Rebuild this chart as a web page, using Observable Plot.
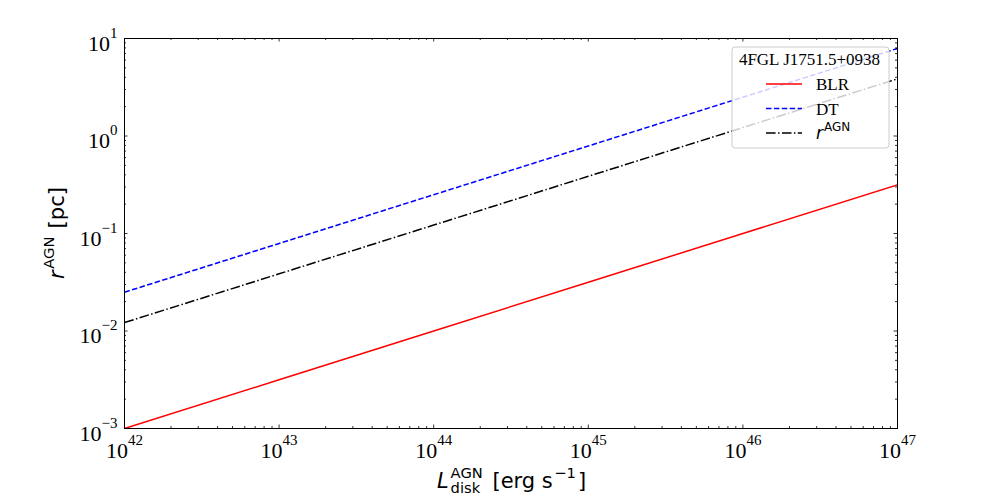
<!DOCTYPE html>
<html><head><meta charset="utf-8">
<script src="https://cdn.jsdelivr.net/npm/d3@7"></script>
<script src="https://cdn.jsdelivr.net/npm/@observablehq/plot@0.6"></script>
<style>body{margin:0;background:#fff} svg{display:block}</style>
</head><body><div id="chart"></div>
<script>
// ---- data ----
const luminosity = [1e42, 1e43, 1e44, 1e45, 1e46, 1e47];
const rBLR = [0.001, 0.00316, 0.01, 0.0316, 0.1, 0.316];
const rDT  = [0.025, 0.079, 0.25, 0.79, 2.5, 7.9];
const rAGN = [0.0122, 0.0386, 0.122, 0.386, 1.22, 3.86];
const xTickExponents = [42, 43, 44, 45, 46, 47];
const yTickExponents = [-3, -2, -1, 0, 1];
const legendTitle = "4FGL J1751.5+0938";
const seriesKeys = ["BLR", "DT", "AGN"];

// ---- styles ----
const seriesColor = {BLR: "#ff0000", DT: "#0000ff", AGN: "#000000"};
const seriesDash = {BLR: null, DT: "5.5,2.4", AGN: "9.6,2.4,1.5,2.4"};

const W = 997, H = 499, mL = 124, mR = 100, mT = 38, mB = 71;
const plotW = W - mL - mR, plotH = H - mT - mB;

const rows = {
  BLR: luminosity.map((L, i) => ({L, r: rBLR[i]})),
  DT: luminosity.map((L, i) => ({L, r: rDT[i]})),
  AGN: luminosity.map((L, i) => ({L, r: rAGN[i]}))
};

const xMajor = xTickExponents.map(e => 10 ** e);
const yMajor = yTickExponents.map(e => 10 ** e);
const xMinor = xTickExponents.slice(0, -1).flatMap(e => d3.range(2, 10).map(m => m * 10 ** e));
const yMinor = yTickExponents.slice(0, -1).flatMap(e => d3.range(2, 10).map(m => m * 10 ** e));
const fmt = d => `10^${Math.round(Math.log10(d))}`;

const major = 3.5, minor = 2;
const tickStyle = {stroke: "#000", strokeWidth: 0.8};

const chart = Plot.plot({
  width: W, height: H,
  marginLeft: mL, marginRight: mR, marginTop: mT, marginBottom: mB,
  x: {type: "log", domain: [1e42, 1e47]},
  y: {type: "log", domain: [1e-3, 1e1]},
  style: {background: "#fff", color: "#000"},
  marks: [
    ...seriesKeys.map(k => Plot.line(rows[k], {
      x: "L", y: "r", stroke: seriesColor[k], strokeWidth: 1.5,
      strokeDasharray: seriesDash[k], strokeLinecap: "butt", clip: true
    })),
    // inward ticks on all four sides
    Plot.tickX(xMajor, {x: d => d, insetTop: plotH - major, ...tickStyle}),
    Plot.tickX(xMajor, {x: d => d, insetBottom: plotH - major, ...tickStyle}),
    Plot.tickX(xMinor, {x: d => d, insetTop: plotH - minor, ...tickStyle}),
    Plot.tickX(xMinor, {x: d => d, insetBottom: plotH - minor, ...tickStyle}),
    Plot.tickY(yMajor, {y: d => d, insetRight: plotW - major, ...tickStyle}),
    Plot.tickY(yMajor, {y: d => d, insetLeft: plotW - major, ...tickStyle}),
    Plot.tickY(yMinor, {y: d => d, insetRight: plotW - minor, ...tickStyle}),
    Plot.tickY(yMinor, {y: d => d, insetLeft: plotW - minor, ...tickStyle}),
    Plot.axisX(xMajor, {anchor: "bottom", tickSize: 0, tickPadding: 0, tickFormat: fmt,
      fontSize: 22, fontFamily: "Liberation Serif", label: null}),
    Plot.axisY(yMajor, {anchor: "left", tickSize: 0, tickPadding: 7, tickFormat: fmt,
      fontSize: 22, fontFamily: "Liberation Serif", label: null}),
    Plot.frame({stroke: "#000", strokeWidth: 1})
  ]
});
document.getElementById("chart").appendChild(chart);

const svg = d3.select(chart);

// superscript tick labels
function supLabels(sel, baseY) {
  sel.each(function () {
    const s = this.textContent;
    if (!s.includes("^")) return;
    const [base, exp] = s.split("^");
    const t = d3.select(this);
    this.textContent = "";
    t.attr("y", baseY).attr("dy", null);
    t.append("tspan").text(base);
    t.append("tspan").attr("font-size", 15).attr("dy", -13).text(exp.replace("-", "\u2212"));
  });
}
supLabels(svg.selectAll('g[aria-label="x-axis tick label"] text'), 29);
supLabels(svg.selectAll('g[aria-label="y-axis tick label"] text'), 12);

// helper to lay out runs of text horizontally
function layout(g, items, family) {
  g.attr("text-anchor", "start");
  let x = 0;
  for (const it of items) {
    if (it.stack) {
      let w = 0;
      for (const s of it.stack) {
        const t = g.append("text").attr("x", x).attr("y", s.dy)
          .attr("font-family", family).attr("font-size", s.size).text(s.text);
        w = Math.max(w, t.node().getComputedTextLength());
      }
      x += w + (it.gap || 0);
    } else {
      const t = g.append("text").attr("x", x).attr("y", it.dy || 0)
        .attr("font-family", family).attr("font-size", it.size)
        .attr("font-style", it.italic ? "italic" : null)
        .style("white-space", "pre").text(it.text);
      x += t.node().getComputedTextLength() + (it.gap || 0);
    }
  }
  return x;
}

// x-axis label
const xl = svg.append("g");
const xw = layout(xl, [
  {text: "L", size: 21, italic: true, gap: 2},
  {stack: [{text: "AGN", size: 14.7, dy: -10.5}, {text: "disk", size: 14.7, dy: 4.5}], gap: 3},
  {text: " [erg s", size: 21, gap: 1.5},
  {text: "\u22121", size: 14.7, dy: -10, gap: 2},
  {text: "]", size: 21}
], "DejaVu Sans");
xl.attr("transform", `translate(${mL + plotW / 2 - xw / 2 + 1},488)`);

// y-axis label
const yl = svg.append("g");
const yw = layout(yl, [
  {text: "r", size: 21, italic: true, gap: 1.5},
  {text: "AGN", size: 14.7, dy: -10, gap: 1.5},
  {text: " [pc]", size: 21}
], "DejaVu Sans");
yl.attr("transform", `translate(64,${mT + plotH / 2}) rotate(-90) translate(${-yw / 2},0)`);

// legend
const boxW = 157, boxH = 101;
const bx = W - mR - 8 - boxW, by = mT + 9;
const lg = svg.append("g").attr("text-anchor", "start");
lg.append("rect").attr("x", bx).attr("y", by).attr("width", boxW).attr("height", boxH).attr("rx", 3)
  .attr("fill", "#fff").attr("fill-opacity", 0.8).attr("stroke", "#cccccc").attr("stroke-width", 1);
lg.append("text").attr("x", bx + boxW / 2 - 1).attr("y", by + 18).attr("text-anchor", "middle")
  .attr("font-family", "Liberation Serif").attr("font-size", 17).text(legendTitle);
seriesKeys.forEach((k, i) => {
  const ly = by + 37 + i * 24.5;
  lg.append("line").attr("x1", bx + 34).attr("x2", bx + 70).attr("y1", ly).attr("y2", ly)
    .attr("stroke", seriesColor[k]).attr("stroke-width", 1.5)
    .attr("stroke-dasharray", seriesDash[k]);
  if (k === "AGN") {
    const t = lg.append("text").attr("x", bx + 84).attr("y", ly + 6).attr("font-family", "DejaVu Sans");
    t.append("tspan").attr("font-style", "italic").attr("font-size", 17).text("r");
    t.append("tspan").attr("font-size", 12).attr("dy", -8).attr("dx", 1).text("AGN");
  } else {
    lg.append("text").attr("x", bx + 84).attr("y", ly + 6).attr("font-family", "Liberation Serif")
      .attr("font-size", 17).text(k);
  }
});
</script>
</body></html>
